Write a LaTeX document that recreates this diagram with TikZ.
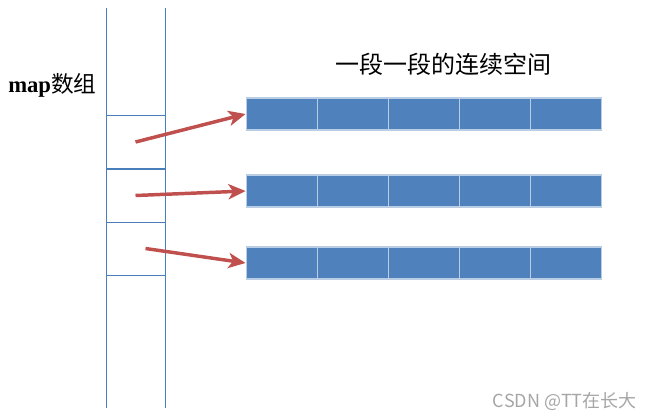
\documentclass[tikz,border=0pt]{standalone}
\usepackage{fontspec}
\setmainfont{Liberation Serif}
\newfontfamily\cjk{Noto Sans CJK SC}
\usepackage{xcolor}
\usetikzlibrary{arrows.meta,positioning}

\definecolor{cellblue}{HTML}{4F81BD}
\definecolor{celledge}{HTML}{B9CDE5}
\definecolor{colline}{HTML}{4A7EBB}
\definecolor{ptrred}{HTML}{C0504D}

\begin{document}
\begin{tikzpicture}[
    x=0.75pt, y=-0.75pt,
    slot/.style={draw=colline, line width=0.6pt, minimum width=59*0.75pt, minimum height=53*0.75pt, inner sep=0pt},
    cell/.style={draw=celledge, line width=0.8pt, fill=cellblue, minimum width=71*0.75pt, minimum height=32*0.75pt, inner sep=0pt},
    ptr/.style={-{Stealth[length=4.5mm, width=4mm, inset=1.2mm]}, draw=ptrred, line width=2.6pt},
    lbl/.style={font=\fontsize{17}{20}\selectfont, inner sep=0pt},
]
\useasboundingbox (0,0) rectangle (654,419);

% map array
\draw[colline, line width=0.6pt] (106,8) -- (106,408);
\draw[colline, line width=0.6pt] (165,8) -- (165,408);
\node[slot] (slot1) at (135.5,142) {};
\node[slot] (slot2) at (135.5,195.5) {};
\node[slot] (slot3) at (135.5,248.5) {};
\node[lbl, anchor=west] (maplbl) at (8,85) {\textbf{map}{\cjk 数组}};

% buffers
\foreach \r/\y in {1/114, 2/191, 3/263}
  \foreach \c in {1,...,5}
    \node[cell] (buf\r\c) at (210.4+71.2*\c, \y) {};

\node[lbl, font=\cjk\fontsize{18}{22}\selectfont] (title) at (443,64) {一段一段的连续空间};

\draw[ptr] (slot1.center) -- (buf11.west);
\draw[ptr] (slot2.center) -- (buf21.west);
\draw[ptr] ([xshift=10*0.75pt]slot3.center) -- (buf31.west);

\node[lbl, text=gray!70, font=\cjk\fontsize{13.5}{16}\selectfont, anchor=east] (mark) at (637,401) {CSDN @TT在长大};
\end{tikzpicture}
\end{document}
